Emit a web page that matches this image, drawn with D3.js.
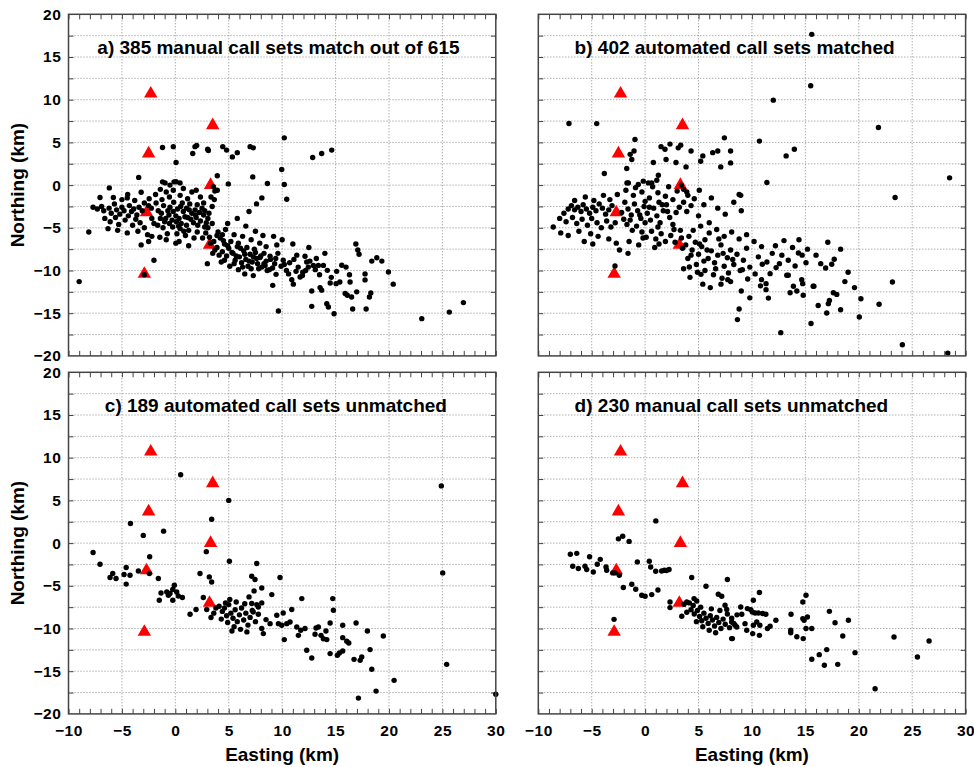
<!DOCTYPE html>
<html>
<head>
<meta charset="utf-8">
<script src="https://cdn.jsdelivr.net/npm/d3@7"></script>
<style>
  html, body { margin: 0; padding: 0; background: #fff; }
  svg { display: block; }
  text { font-family: "Liberation Sans", Arial, Helvetica, sans-serif; font-weight: bold; fill: #000; }
</style>
</head>
<body>
<svg id="chart" width="974" height="767"></svg>
<script>
// Axis ranges and labelled ticks
const eastingTicks = [-10, -5, 0, 5, 10, 15, 20, 25, 30];
const northingTicks = [20, 15, 10, 5, 0, -5, -10, -15, -20];

// Station locations (Easting, Northing in km)
const stations = [
  [-2.3, 10.7], [3.5, 7.0], [-2.5, 3.7], [3.3, 0.0],
  [-2.7, -3.2], [3.2, -7.0], [-2.9, -10.4]
];

// Panel titles
const titles = [
  "a) 385 manual call sets match out of 615",
  "b) 402 automated call sets matched",
  "c) 189 automated call sets unmatched",
  "d) 230 manual call sets unmatched"
];

// a) manual call sets that match
const pointsA = [
  [-7.05,-1.45],[-6.18,-0.33],[-5.8,-1.45],[-4.46,-1.1],[-3.43,0.9],[-3.2,-0.83],[-1.4,-0.5],
  [-1.2,4.4],[-0.19,4.5],[0.07,2.65],[-1.2,0.38],[-0.96,0.26],[-0.5,0.0],[-0.12,0.38],[0.07,0.4],
  [0.44,0.26],[-0.19,-0.6],[1.63,3.7],[1.84,4.5],[2.0,4.64],[3.03,4.2],[3.09,4.05],[4.44,4.5],
  [4.8,4.1],[5.34,3.3],[5.8,3.8],[3.93,1.1],[4.96,0.14],[3.56,-0.2],[3.7,-0.7],[3.93,-0.6],
  [3.34,-1.4],[7.0,4.5],[10.2,5.53],[7.3,4.36],[12.86,3.24],[13.7,3.7],[14.64,4.1],[9.96,1.83],
  [7.25,0.96],[8.62,0.19],[10.2,0.07],[10.43,-1.65],
  [7.93,-8.49],[8.4,-9.4],[8.87,-8.33],[9.12,-11.74],[9.43,-10.45],[9.65,-14.75],[9.9,-9.5],
  [10.1,-8.8],[10.9,-11.07],[11.05,-11.6],[11.37,-8.2],[11.68,-10.76],[11.93,-10.2],[12.14,-8.33],
  [12.3,-9.0],[12.45,-9.6],[12.77,-12.4],[12.77,-14.2],[13.55,-12.0],[13.7,-12.3],[12.92,-9.4],
  [13.39,-9.4],[13.86,-9.4],[14.23,-9.98],[14.18,-13.88],[14.33,-14.28],[14.5,-11.46],[14.86,-15.06],
  [15.05,-11.54],[15.4,-11.35],[15.58,-9.39],[15.98,-9.6],[15.9,-12.7],[16.1,-12.9],[16.5,-13.1],
  [16.36,-11.35],[16.6,-14.5],[16.98,-12.5],[17.08,-7.6],[17.76,-11.1],[17.76,-10.4],[17.86,-14.5],
  [18.17,-13.1],[18.3,-12.64],[18.39,-8.9],[18.86,-8.5],[19.33,-8.9],[19.95,-10.17],[20.4,-11.6],
  [23.07,-15.64],[25.65,-14.87],[26.97,-13.76],
  [-7.7,-2.6],[-7.3,-2.8],[-6.9,-2.5],[-6.7,-3.0],[-6.2,-2.7],[-6.0,-3.3],[-5.7,-2.2],[-5.5,-2.9],
  [-5.2,-3.4],[-5.0,-2.6],[-4.8,-3.0],[-4.3,-2.4],[-4.1,-3.1],[-3.9,-2.8],[-3.6,-3.5],[-3.4,-2.6],
  [-3.1,-3.0],[-6.6,-3.9],[-6.1,-4.3],[-5.6,-3.8],[-5.3,-4.6],[-4.7,-4.1],[-4.4,-3.6],[-4.0,-4.7],
  [-3.7,-4.0],[-3.3,-4.4],[-2.9,-5.0],[-5.4,-5.3],[-4.5,-5.6],[-3.5,-5.4],[-2.6,-5.8],[-8.1,-5.5],
  [-6.3,-5.1],[-5.0,-1.7],[-4.5,-1.5],[-3.8,-1.8],[-2.9,-2.1],[-2.5,-2.4],[-2.2,-3.9],[-2.0,-4.5],
  [-2.2,-6.0],[-9.0,-11.3],[-2.0,-8.8],[-2.9,-10.5],[-2.5,-6.6],[-3.2,-7.0],
  [-1.8,-2.1],[-1.6,-3.0],[-1.3,-3.3],[-1.1,-2.4],[-0.9,-3.9],[-0.7,-3.0],[-0.5,-2.6],[-0.3,-4.1],
  [0.05,-3.6],[0.2,-2.8],[0.35,-3.9],[0.55,-4.5],[0.75,-3.1],[1.05,-2.7],[1.15,-3.8],[1.45,-4.0],
  [1.55,-3.3],[1.85,-2.9],[1.95,-3.8],[2.25,-3.2],[2.35,-4.2],[2.65,-3.5],[2.75,-3.0],[3.05,-3.9],
  [3.15,-3.3],[-1.65,-4.7],[-1.15,-5.0],[-0.75,-5.7],[-0.25,-4.9],[0.15,-5.7],[0.45,-5.1],[0.95,-5.9],
  [1.25,-5.3],[1.75,-6.2],[2.05,-5.5],[2.55,-6.2],[2.85,-5.6],[-1.45,-6.1],[-0.85,-6.4],[0.35,-6.6],
  [-1.85,-1.1],[-1.25,-1.7],[-0.55,-1.4],[0.45,-1.2],[1.15,-1.6],[1.55,-0.8],[2.35,-1.4],[2.65,-2.1],
  [3.45,-2.5],[3.65,-1.7],[0.75,-0.4],[1.95,-0.6],[-0.85,-0.8],[2.05,-2.3],[1.35,-2.2],[0.65,-2.1],
  [-0.15,-2.0],[3.05,-5.0],[3.45,-4.5],[1.05,-4.7],[2.75,-4.9],[-0.55,-4.5],[0.05,-6.8],[1.25,-7.1],
  [-2.25,-2.7],[-2.45,-1.6],
  [-0.6,-3.5],[0.1,-4.3],[0.9,-3.7],[1.7,-4.4],[2.5,-2.7],[-0.2,-3.1],[1.3,-2.9],[2.1,-4.7],
  [0.5,-2.5],[-1.0,-4.3],[1.9,-3.5],[0.3,-4.8],[2.9,-4.4],[-1.4,-3.9],[0.8,-5.4],
  [3.2,-6.1],[3.6,-6.6],[3.9,-7.3],[4.2,-6.2],[4.4,-7.8],[4.6,-6.9],[4.8,-8.3],[5.0,-7.4],
  [5.2,-6.6],[5.4,-8.0],[5.6,-8.8],[5.8,-7.2],[6.0,-8.4],[6.2,-9.1],[6.4,-7.7],[6.6,-8.7],
  [6.8,-9.5],[7.0,-8.1],[7.2,-9.0],[7.4,-7.5],[7.6,-8.6],[7.8,-9.8],[8.0,-8.3],[8.3,-9.2],
  [8.6,-10.0],[8.9,-8.7],[4.0,-5.5],[4.7,-5.2],[5.5,-5.8],[6.3,-6.0],[7.1,-6.4],[7.9,-6.8],
  [8.5,-7.2],[5.1,-9.5],[5.9,-9.9],[6.5,-10.4],[7.3,-10.6],[4.3,-9.0],[3.5,-8.0],[3.0,-9.2],
  [4.9,-4.5],[5.8,-3.9],[6.6,-4.8],[7.5,-5.4],[8.2,-5.9],[6.9,-3.1],[7.6,-2.2],[8.1,-1.5],
  [9.2,-6.0],[9.5,-7.0],
  [3.3,-6.8],[3.7,-7.6],[4.1,-8.2],[4.5,-6.5],[4.9,-7.1],[5.3,-7.9],[5.7,-8.3],[6.1,-7.4],
  [6.5,-8.1],[6.9,-8.9],[7.3,-8.4],[7.7,-9.2],[8.1,-9.6],[8.5,-8.9],[8.8,-9.9],[9.1,-9.7],
  [5.5,-9.2],[6.3,-9.6],[7.1,-9.8],[4.6,-8.8],[5.9,-6.8],[6.7,-7.3],[7.5,-7.9],[8.3,-8.0],
  [9.4,-8.6],[10.2,-9.3],[10.6,-10.4],[11.3,-10.1],[3.9,-5.9],[4.4,-5.8],
  [9.3,-9.2],[9.6,-8.0],[10.4,-10.0],[10.7,-9.1],[11.1,-8.7],[11.5,-9.6],[11.9,-10.6],[12.6,-8.9],
  [12.2,-10.0],[13.1,-9.9],[13.5,-10.5],[13.2,-8.6],[14.0,-8.0],[14.6,-10.8],[12.5,-7.3],[11.0,-6.9],
  [10.0,-6.4],[16.9,-6.9],[17.2,-8.1],[15.1,-10.1],[16.3,-10.5]
];

// b) automated call sets that match
const pointsB = [
  [-7.13,7.22],[-4.53,7.2],[-0.95,5.35],[-1.04,4.0],[-1.4,3.6],[-1.25,3.0],[-1.72,1.95],[-3.82,1.36],
  [-1.57,0.26],[-1.7,0.26],[-0.64,0.07],[-0.17,0.46],[0.3,0.26],[0.62,0.26],[1.09,0.57],[1.24,1.16],
  [1.49,4.5],[1.86,4.2],[2.33,4.8],[1.96,3.0],[0.77,2.65],[2.89,2.65],[3.1,4.36],[3.33,4.68],
  [3.83,2.13],[4.3,4.0],[5.07,-0.6],[5.4,3.42],[5.2,2.8],[6.33,3.8],[6.8,4.0],[7.08,2.13],
  [7.42,5.53],[8.0,4.0],[8.0,2.6],[3.4,0.0],[3.9,-0.8],[3.6,-0.5],[8.8,-1.1],
  [15.6,17.65],[15.5,11.63],[12.0,9.95],[21.84,6.75],[10.7,5.15],[13.2,3.42],[13.97,4.2],[11.4,0.3],
  [8.95,-1.2],[23.4,-1.45],[28.5,0.85],
  [-2.82,-9.47],[4.14,-9.59],[5.23,-10.45],[7.1,-11.6],[7.74,-11.07],[8.8,-14.5],[8.64,-15.75],
  [12.7,-17.28],[15.53,-16.2],[16.2,-14.1],[17.0,-14.98],[17.15,-13.88],[17.25,-13.5],[17.62,-12.6],
  [17.94,-12.8],[18.3,-14.6],[20.05,-15.45],[20.2,-13.3],[21.9,-13.96],[23.15,-11.35],[24.08,-18.7],
  [28.33,-19.67],[15.73,-11.85],[14.8,-12.9],[14.66,-11.07],[13.57,-12.6],[14.2,-12.4],[13.88,-11.85],
  [15.06,-9.1],[16.44,-9.2],[16.9,-9.7],[17.47,-9.27],[17.7,-8.69],[14.04,-9.47],[12.26,-9.66],
  [11.7,-10.37],[10.97,-9.27],[10.9,-11.07],[11.32,-11.54],[11.32,-12.24],[11.54,-13.23],[13.26,-10.56],
  [13.4,-10.56],[12.57,-9.2],[12.8,-8.2],[13.4,-8.8],[14.35,-7.95],[14.7,-8.2],[14.75,-11.54],[15.8,-11.85],
  [-8.6,-4.9],[-8.0,-3.9],[-7.6,-3.3],[-7.2,-2.8],[-6.9,-2.4],[-6.6,-2.9],[-6.3,-2.6],[-6.0,-3.1],
  [-5.8,-2.3],[-5.5,-2.8],[-5.2,-3.3],[-4.9,-2.6],[-4.6,-3.0],[-4.3,-2.2],[-4.0,-2.7],[-3.7,-3.4],
  [-3.4,-2.9],[-3.1,-2.4],[-7.4,-4.3],[-6.8,-3.8],[-6.4,-4.5],[-5.9,-4.0],[-5.4,-4.7],[-5.0,-3.9],
  [-4.5,-4.4],[-4.1,-5.0],[-3.6,-4.2],[-3.2,-4.9],[-2.8,-4.4],[-6.2,-5.4],[-5.1,-5.7],[-4.4,-6.0],
  [-3.4,-6.3],[-2.7,-6.8],[-7.9,-5.6],[-6.6,-1.8],[-5.6,-1.4],[-4.8,-1.8],[-3.9,-1.2],[-3.3,-1.7],
  [-2.6,-1.1],[-2.4,-7.6],[-1.6,-8.0],[-5.7,-6.6],[-4.9,-6.9],[-7.2,-5.9],
  [-1.9,-2.0],[-1.6,-2.8],[-1.3,-3.5],[-1.0,-2.2],[-0.7,-3.0],[-0.4,-3.9],[-0.1,-2.5],[0.2,-3.3],
  [0.5,-4.1],[0.8,-2.7],[1.1,-3.6],[1.4,-4.4],[1.7,-3.0],[2.0,-2.3],[2.3,-3.8],[2.6,-4.6],
  [2.9,-3.2],[3.2,-2.6],[-1.7,-4.6],[-1.2,-5.3],[-0.8,-4.8],[-0.3,-5.5],[0.1,-6.1],[0.6,-5.4],
  [1.0,-6.3],[1.5,-5.7],[1.9,-6.6],[2.4,-5.9],[2.8,-6.7],[3.3,-5.3],[-1.5,-6.6],[-0.6,-7.0],
  [0.9,-7.3],[-1.8,-0.6],[-1.1,-1.2],[-0.3,-0.8],[0.4,-1.5],[1.2,-0.9],[1.9,-1.3],[2.6,-1.7],
  [3.0,-0.7],[2.2,-0.2],[0.7,-0.2],[-0.9,-0.3],[3.6,-2.0],[3.9,-3.1],[4.3,-2.4],[1.3,-2.0],
  [0.0,-1.9],[-2.2,-3.2],[-2.0,-4.0],[4.0,-1.2],[4.6,-1.6],[5.5,-2.3],[6.2,-1.5],[6.8,-2.7],
  [7.5,-3.4],[8.3,-2.0],[9.0,-3.0],[5.0,-3.6],[6.0,-4.4],
  [-0.5,-3.5],[0.4,-2.6],[1.2,-4.9],[2.1,-3.1],[-1.4,-4.1],[0.0,-4.4],[1.6,-2.3],[2.7,-5.2],
  [-0.2,-6.2],[1.3,-6.9],
  [3.4,-6.2],[3.8,-7.0],[4.1,-6.0],[4.4,-7.6],[4.7,-6.7],[5.0,-8.1],[5.3,-7.2],[5.6,-6.4],
  [5.9,-8.6],[6.2,-7.7],[6.5,-9.1],[6.8,-8.2],[7.1,-7.0],[7.4,-9.5],[7.7,-8.5],[8.0,-7.6],
  [8.3,-9.3],[8.6,-8.1],[8.9,-10.0],[9.2,-8.8],[9.5,-7.4],[9.8,-9.6],[4.0,-8.6],[4.8,-9.3],
  [5.6,-10.0],[6.4,-10.5],[7.2,-10.9],[8.0,-11.3],[4.5,-5.3],[5.2,-4.8],[6.0,-5.6],[6.7,-5.2],
  [7.4,-6.0],[8.1,-5.5],[8.8,-6.3],[9.5,-5.8],[10.2,-6.6],[3.6,-9.8],[4.2,-10.8],[5.4,-11.6],
  [6.1,-12.0],[9.0,-12.4],[9.8,-13.2],[10.3,-10.4],[10.6,-8.4],[10.9,-7.2],[11.4,-9.0],[11.9,-8.0],
  [12.2,-7.1],[13.0,-6.5],[13.8,-7.3],[14.4,-6.4],[15.2,-7.5],[16.0,-8.2],[17.1,-6.7],[18.3,-7.5],
  [19.0,-10.2],[19.6,-12.0],[18.7,-11.3],
  [3.5,-7.4],[4.3,-8.2],[5.1,-6.9],[5.8,-7.6],[6.6,-9.8],[7.3,-8.0],[8.2,-8.7],[9.1,-9.9],
  [9.6,-11.0],[10.8,-11.8],[6.9,-6.3],[4.9,-10.2],[7.8,-10.3],[5.5,-8.9]
];

// c) automated call sets without a match
const pointsC = [
  [-7.05,-2.47],[-6.11,-4.03],[-5.86,-3.56],[-5.55,-4.15],[-4.6,-2.86],[-4.8,-3.68],[-4.24,-3.76],
  [-4.6,-4.8],[-3.46,-3.26],[-2.43,-3.56],[-1.59,-4.15],[-1.34,-5.84],[-1.5,-6.7],[-0.8,-5.72],
  [-0.65,-6.1],[-0.24,-5.44],[-0.09,-4.93],[0.13,-5.72],[-0.24,-6.7],[-0.5,-5.9],[0.28,-6.2],
  [0.66,-6.37],[1.38,-8.33],[1.94,-7.78],[2.31,-3.56],[3.18,-3.96],[3.4,-4.55],[2.62,-6.37],
  [2.94,-7.78],[3.34,-8.72],[5.06,-2.12],
  [7.62,-2.39],[9.8,-4.03],[7.37,-5.6],[8.09,-5.25],[9.03,-6.03],[11.84,-6.5],[14.74,-6.5],
  [14.8,-7.87],[10.9,-7.78],[10.1,-8.18],[9.5,-8.45],[7.15,-7.08],[7.3,-8.06],[7.77,-8.33],
  [8.49,-8.96],[8.87,-9.43],[9.65,-9.43],[9.96,-9.62],[10.43,-9.43],[10.74,-9.24],[8.09,-10.0],
  [8.24,-10.6],[10.2,-11.3],[11.37,-9.82],[11.52,-10.8],[11.74,-10.2],[12.14,-10.0],[12.3,-12.55],
  [12.77,-13.46],[13.17,-9.94],[13.39,-9.82],[13.08,-10.68],[13.64,-10.8],[13.86,-11.2],[14.1,-10.3],
  [14.18,-11.3],[14.49,-9.35],[14.49,-12.94],[15.17,-13.14],[15.36,-12.87],[15.67,-12.64],[15.67,-9.62],
  [15.67,-11.07],[16.05,-11.5],[16.24,-11.7],[16.73,-13.61],[16.92,-9.35],[17.3,-13.73],[17.45,-13.34],
  [17.14,-18.15],[17.98,-10.3],[18.23,-12.47],[18.39,-14.78],[18.79,-17.33],[19.47,-10.88],[20.48,-16.07],
  [25.03,-3.49],[25.4,-14.2],[30.0,-17.7],[24.9,6.7],
  [7.15,-3.88],[7.46,-4.27],[8.09,-7.0],[7.62,-7.2],[7.77,-7.48],
  [-7.7,-1.1],[-4.2,2.3],[-3.0,0.9],[-2.4,-1.6],[-1.1,1.4],[0.5,8.0],[2.9,-1.0],[5.0,5.0],[3.4,2.8],
  [4.1,-7.4],[4.4,-8.0],[4.6,-7.6],[4.8,-8.5],[5.0,-7.2],[5.2,-8.2],[5.4,-8.8],[5.6,-7.8],
  [5.8,-9.2],[6.0,-8.4],[6.2,-7.6],[6.4,-9.0],[6.6,-8.2],[6.8,-9.6],[7.0,-8.7],[4.3,-8.9],
  [4.9,-9.3],[5.5,-9.8],[6.1,-10.1],[6.7,-10.4],[5.1,-6.6],[5.7,-6.9],[6.5,-7.1],[7.2,-7.9],
  [7.5,-9.2],[4.7,-7.0],[5.3,-10.3],[3.8,-7.6],[3.6,-8.2],[6.9,-6.3]
];

// d) manual call sets without a match
const pointsD = [
  [-6.78,-2.71],[-6.25,-2.98],[-5.63,-2.71],[-5.47,-3.1],[-4.85,-3.38],[-4.48,-2.47],[-3.66,-2.79],
  [-3.6,-3.18],[-3.03,-3.49],[-2.82,-3.49],[-2.42,-3.77],[-2.04,-5.2],[-1.25,-4.82],[-0.88,-5.4],
  [-0.73,-2.2],[-0.32,-6.11],[0.0,-6.23],[0.62,-6.03],[0.52,-2.79],[0.39,-2.12],[0.99,-3.29],
  [1.55,-3.26],[1.8,-3.18],[2.24,-3.1],[-2.91,-8.93],[2.33,-7.55],[2.33,-6.89],[3.43,-8.57],
  [3.64,-7.16],[3.9,-6.89],[4.14,-7.0],[4.36,-4.03],[4.58,-6.5],[4.83,-6.78],[5.7,-5.05],[7.7,-4.27],
  [6.85,-5.99],[7.17,-6.23],[7.48,-7.28],[7.64,-7.78],[8.17,-11.18],[8.42,-9.62],
  [10.7,-5.79],[10.13,-6.69],[9.89,-7.79],[8.95,-7.48],[9.57,-7.67],[9.05,-8.33],[10.04,-8.06],
  [10.29,-8.18],[10.6,-8.18],[11.0,-8.25],[11.3,-8.33],[12.24,-9.04],[11.7,-9.74],[11.45,-10.0],
  [8.1,-9.24],[8.58,-9.82],[9.35,-9.43],[9.51,-10.2],[10.13,-9.62],[10.45,-9.24],[10.74,-9.62],
  [10.07,-10.6],[10.7,-10.8],[8.1,-11.18],[13.66,-8.33],[13.63,-10.21],[13.63,-10.5],[14.2,-10.97],
  [14.76,-6.89],[15.06,-6.11],[14.76,-8.84],[14.88,-9.04],[15.19,-8.65],[15.06,-10.0],[14.8,-11.18],
  [15.6,-10.0],[15.6,-13.6],[16.3,-13.06],[16.78,-14.31],[17.0,-12.47],[17.25,-7.99],[17.78,-9.32],
  [18.03,-14.2],[18.5,-10.87],[19.03,-9.04],[19.65,-12.83],[21.53,-17.05],[23.3,-10.99],[25.49,-13.34],
  [26.58,-11.46],
  [-7.0,-1.3],[-6.4,-1.2],[-5.2,-1.6],[-4.2,-1.9],[-2.5,0.5],[-2.1,0.8],[1.0,2.6],[-1.5,0.2],
  [2.0,-3.2],[1.2,-5.5],
  [4.3,-7.8],[4.6,-8.3],[4.9,-7.9],[5.1,-8.6],[5.3,-9.1],[5.5,-8.2],[5.7,-8.8],[5.9,-9.4],
  [6.1,-8.5],[6.3,-9.0],[6.5,-9.7],[6.7,-8.7],[6.9,-9.3],[7.1,-10.0],[7.3,-8.9],[7.5,-9.5],
  [7.7,-8.3],[7.9,-9.9],[8.1,-8.8],[8.3,-9.4],[4.8,-9.2],[5.4,-9.8],[6.0,-10.2],[6.6,-10.5],
  [4.5,-7.3],[5.2,-7.5],[6.2,-7.7],[7.0,-7.9],[3.9,-8.1],[8.6,-8.4]
];

const panelData = [pointsA, pointsB, pointsC, pointsD];

// Layout of the 2x2 grid of panels
const colLeft = [68.5, 538.3];
const rowTop = [14.3, 372.3];
const panelW = 427.3;
const panelH = 341.6;
const tickFont = 15.5;

const svg = d3.select("#chart");
svg.append("rect").attr("width", 974).attr("height", 767).attr("fill", "#fff");

panelData.forEach((pts, i) => {
  const col = i % 2, row = Math.floor(i / 2);
  const x0 = colLeft[col], y0 = rowTop[row];
  const x = d3.scaleLinear().domain([-10, 30]).range([0, panelW]);
  const y = d3.scaleLinear().domain([-20, 20]).range([panelH, 0]);
  const g = svg.append("g").attr("transform", `translate(${x0},${y0})`);

  // dotted grid
  const grid = g.append("g").attr("stroke", "#8a8a8a").attr("stroke-width", 1)
    .attr("stroke-dasharray", "1,2");
  grid.selectAll("line.vx").data(eastingTicks.slice(1, -1)).join("line")
    .attr("x1", d => x(d)).attr("x2", d => x(d)).attr("y1", 0).attr("y2", panelH);
  grid.selectAll("line.hy").data(d3.range(-17.5, 20, 2.5)).join("line")
    .attr("y1", d => y(d)).attr("y2", d => y(d)).attr("x1", 0).attr("x2", panelW);

  // minor inward ticks along top and bottom
  const minor = d3.range(-10, 31, 1);
  g.append("g").attr("transform", `translate(0,${panelH})`)
    .call(d3.axisBottom(x).tickValues(minor).tickSize(-5).tickFormat(""))
    .call(s => s.select(".domain").remove())
    .selectAll("line").attr("stroke", "#444");
  g.append("g")
    .call(d3.axisTop(x).tickValues(minor).tickSize(-5).tickFormat(""))
    .call(s => s.select(".domain").remove())
    .selectAll("line").attr("stroke", "#444");
  // ticks along left and right
  const yMinor = d3.range(-17.5, 20, 2.5);
  g.append("g")
    .call(d3.axisLeft(y).tickValues(yMinor).tickSize(-5).tickFormat(""))
    .call(s => s.select(".domain").remove())
    .selectAll("line").attr("stroke", "#444");
  g.append("g").attr("transform", `translate(${panelW},0)`)
    .call(d3.axisRight(y).tickValues(yMinor).tickSize(-5).tickFormat(""))
    .call(s => s.select(".domain").remove())
    .selectAll("line").attr("stroke", "#444");

  // tick labels
  if (col === 0) {
    const ay = g.append("g")
      .call(d3.axisLeft(y).tickValues(northingTicks).tickSize(0).tickPadding(7).tickFormat(d3.format("d")));
    ay.select(".domain").remove();
    ay.selectAll("text").attr("font-size", tickFont).attr("font-family", null)
      .style("letter-spacing", "0.6px").style("fill", "#000");
  }
  if (row === 1) {
    const ax = g.append("g").attr("transform", `translate(0,${panelH})`)
      .call(d3.axisBottom(x).tickValues(eastingTicks).tickSize(0).tickPadding(11).tickFormat(d3.format("d")));
    ax.select(".domain").remove();
    ax.selectAll("text").attr("font-size", tickFont).attr("font-family", null)
      .style("letter-spacing", "0.6px").style("fill", "#000");
  }

  // stations
  g.append("g").selectAll("path").data(stations).join("path")
    .attr("transform", d => `translate(${x(d[0])},${y(d[1])})`)
    .attr("d", d3.symbol(d3.symbolTriangle, 78))
    .attr("fill", "#ff0000");

  // event locations
  g.append("g").selectAll("circle").data(pts).join("circle")
    .attr("cx", d => x(d[0])).attr("cy", d => y(d[1])).attr("r", 2.7)
    .attr("fill", "#000");

  // frame
  g.append("rect").attr("width", panelW).attr("height", panelH)
    .attr("fill", "none").attr("stroke", "#444").attr("stroke-width", 1.5);

  // panel title
  g.append("text")
    .attr("x", x(i === 0 ? -7.3 : -6.6)).attr("y", y(15.4))
    .attr("font-size", 19)
    .text(titles[i]);

  // axis titles
  if (col === 0) {
    g.append("text")
      .attr("transform", `translate(${24 - x0},${panelH / 2}) rotate(-90)`)
      .attr("text-anchor", "middle").attr("font-size", 19)
      .text("Northing (km)");
  }
  if (row === 1) {
    g.append("text")
      .attr("x", panelW / 2).attr("y", panelH + 47)
      .attr("text-anchor", "middle").attr("font-size", 19)
      .text("Easting (km)");
  }
});
</script>
</body>
</html>
